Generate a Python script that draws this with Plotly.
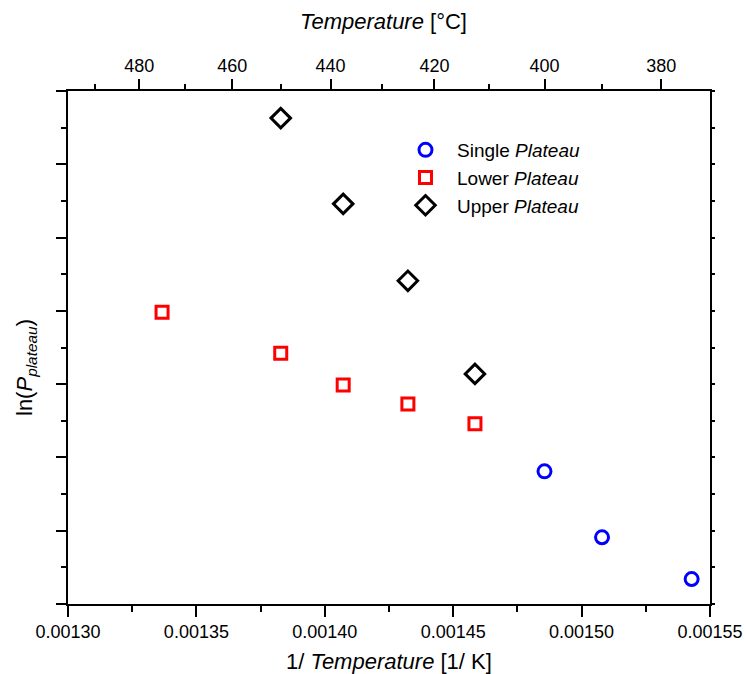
import plotly.graph_objects as go

# Temperatures (°C) of the measurements
T_single = [400.0, 390.0, 375.0]
T_lower = [475.0, 450.0, 437.5, 425.0, 412.5]
T_upper = [450.0, 437.5, 425.0, 412.5]

# ln(P_plateau) values (arbitrary units, axis unlabeled)
y_single = [1.81, 0.91, 0.34]
y_lower = [3.98, 3.42, 2.99, 2.73, 2.46]
y_upper = [6.63, 5.46, 4.41, 3.14]

top_major_C = [480, 460, 440, 420, 400, 380]
top_minor_C = [490, 470, 450, 430, 410, 390, 370]

x_major = [0.00130, 0.00135, 0.00140, 0.00145, 0.00150, 0.00155]
x_major_text = ["0.00130", "0.00135", "0.00140", "0.00145", "0.00150", "0.00155"]
x_minor = [0.001325, 0.001375, 0.001425, 0.001475, 0.001525]

x_range = [0.00130, 0.00155]
y_range = [0, 7]

inv = lambda Ts: [1.0 / (t + 273.15) for t in Ts]

FONT = "Liberation Sans, Arial, sans-serif"
W, H = 746, 674
ML, MR, MT, MB = 68, 36, 91, 70

fig = go.Figure()
fig.add_trace(go.Scatter(
    x=inv(T_single), y=y_single, mode="markers", name="Single <i>Plateau</i>",
    marker=dict(symbol="circle-open", size=13, color="#0000ff", line=dict(width=3, color="#0000ff"))))
fig.add_trace(go.Scatter(
    x=inv(T_lower), y=y_lower, mode="markers", name="Lower <i>Plateau</i>",
    marker=dict(symbol="square-open", size=12, color="#ff0000", line=dict(width=3, color="#ff0000"))))
fig.add_trace(go.Scatter(
    x=inv(T_upper), y=y_upper, mode="markers", name="Upper <i>Plateau</i>",
    marker=dict(symbol="diamond-open", size=15, color="#000000", line=dict(width=3, color="#000000"))))
# invisible trace to anchor top/right axes
fig.add_trace(go.Scatter(x=x_range, y=y_range, xaxis="x2", yaxis="y2", mode="markers",
                         marker=dict(opacity=0), showlegend=False, hoverinfo="skip"))

axis_common = dict(showgrid=False, zeroline=False, linecolor="black", linewidth=1.5,
                   tickcolor="black", tickwidth=1.5, ticks="outside", automargin=False)


def px_x(px):
    return (px - ML) / (W - ML - MR)


def px_y(py):
    return (H - MB - py) / (H - MT - MB)


fig.update_layout(
    width=W, height=H,
    margin=dict(l=ML, r=MR, t=MT, b=MB),
    paper_bgcolor="white", plot_bgcolor="white",
    font=dict(family=FONT, size=18, color="black"),
    showlegend=True,
    legend=dict(x=px_x(394), y=px_y(131), xanchor="left", yanchor="top",
                bgcolor="rgba(0,0,0,0)", font=dict(size=19, family=FONT),
                itemwidth=53, tracegroupgap=0),
    xaxis=dict(**axis_common, range=x_range, tickmode="array",
               tickvals=x_major, ticktext=x_major_text, ticklen=11,
               minor=dict(tickmode="array", tickvals=x_minor,
                          ticklen=6, ticks="outside", tickcolor="black", tickwidth=1.5),
               tickfont=dict(size=18)),
    yaxis=dict(**axis_common, range=y_range, dtick=1, tick0=0, ticklen=10, showticklabels=False,
               minor=dict(dtick=0.5, ticklen=5, ticks="outside", tickcolor="black", tickwidth=1.5)),
    xaxis2=dict(**axis_common, overlaying="x", side="top", range=x_range, tickmode="array",
                tickvals=inv(top_major_C), ticktext=[str(t) for t in top_major_C], ticklen=10,
                minor=dict(tickmode="array", tickvals=inv(top_minor_C), ticklen=5, ticks="outside",
                           tickcolor="black", tickwidth=1.5),
                tickfont=dict(size=18)),
    yaxis2=dict(**axis_common, overlaying="y", side="right", range=y_range, dtick=0.5,
                ticklen=3, showticklabels=False),
    annotations=[
        dict(text="<i>Temperature</i> [°C]", xref="paper", yref="paper",
             x=px_x(383), y=px_y(22), showarrow=False, xanchor="center", yanchor="middle",
             font=dict(size=22)),
        dict(text="1/ <i>Temperature</i> [1/ K]", xref="paper", yref="paper",
             x=px_x(389), y=px_y(661), showarrow=False, xanchor="center", yanchor="middle",
             font=dict(size=22)),
        dict(text="ln(<i>P</i><sub><i>plateau</i></sub>)", xref="paper", yref="paper",
             x=px_x(26), y=px_y(368), showarrow=False, xanchor="center", yanchor="middle",
             textangle=-90, font=dict(size=22)),
    ],
)

fig.write_html("out.html")
